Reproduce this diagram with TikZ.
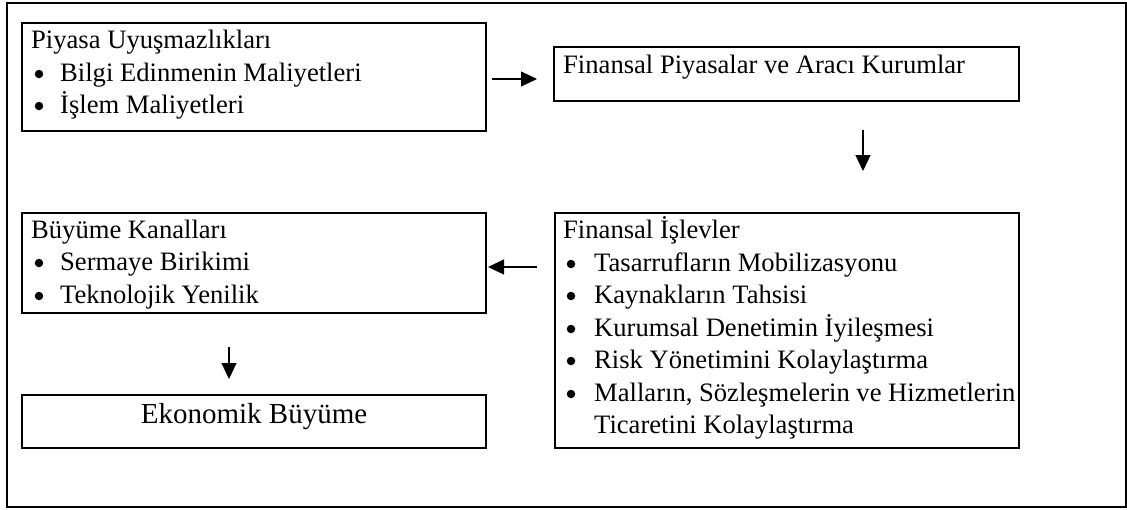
\documentclass[tikz,border=0pt]{standalone}
\usepackage{fontspec}
\setmainfont{Liberation Serif}
\usetikzlibrary{arrows.meta,calc}
\begin{document}
\begin{tikzpicture}[x=1pt,y=-1pt,
  box/.style={draw, line width=1.3pt, inner sep=0pt, outer sep=0pt, anchor=north west},
  txt/.style={anchor=base west, inner sep=0pt, font=\fontsize{26.6}{32.4}\selectfont},
  bul/.style={circle, fill, inner sep=0pt, minimum size=8.5pt},
  arr/.style={line width=1.2pt, -{Triangle[length=16pt,width=15pt]}}]
\useasboundingbox (0,0) rectangle (1127,509);
\node[draw, line width=2pt, inner sep=0pt, outer sep=0pt, minimum width=1119pt, minimum height=504pt, anchor=north west] (frame) at (7,3) {};
% boxes
\node[box, minimum width=464pt, minimum height=108pt] (b1) at (22,23) {};
\node[box, minimum width=465pt, minimum height=54pt] (b2) at (554,47) {};
\node[box, minimum width=464pt, minimum height=235pt] (b3) at (555,213) {};
\node[box, minimum width=464pt, minimum height=100pt] (b4) at (22,213) {};
\node[box, minimum width=464pt, minimum height=53pt] (b5) at (22,395) {};
% box 1 text
\node[txt] (t1) at (31,48) {Piyasa Uyuşmazlıkları};
\node[bul] (t1b1) at (39,74) {};
\node[txt] (t1i1) at (60,81) {Bilgi Edinmenin Maliyetleri};
\node[bul] (t1b2) at (39,106) {};
\node[txt] (t1i2) at (60,113) {İşlem Maliyetleri};
% box 2 text
\node[txt] (t2) at (563,73) {Finansal Piyasalar ve Aracı Kurumlar};
% box 3 text
\node[txt] (t3) at (563,238) {Finansal İşlevler};
\node[bul] (t3b1) at (571,264) {};
\node[txt] (t3i1) at (594,271) {Tasarrufların Mobilizasyonu};
\node[bul] (t3b2) at (571,296) {};
\node[txt] (t3i2) at (594,303) {Kaynakların Tahsisi};
\node[bul] (t3b3) at (571,329) {};
\node[txt] (t3i3) at (594,336) {Kurumsal Denetimin İyileşmesi};
\node[bul] (t3b4) at (571,361) {};
\node[txt] (t3i4) at (594,368) {Risk Yönetimini Kolaylaştırma};
\node[bul] (t3b5) at (571,394) {};
\node[txt] (t3i5) at (594,401) {Malların, Sözleşmelerin ve Hizmetlerin};
\node[txt] (t3i6) at (594,433) {Ticaretini Kolaylaştırma};
% box 4 text
\node[txt] (t4) at (31,238) {Büyüme Kanalları};
\node[bul] (t4b1) at (39,263) {};
\node[txt] (t4i1) at (60,270) {Sermaye Birikimi};
\node[bul] (t4b2) at (39,296) {};
\node[txt] (t4i2) at (60,303) {Teknolojik Yenilik};
% box 5 text
\node[anchor=base, inner sep=0pt, font=\fontsize{29}{34}\selectfont] (t5) at (254,423) {Ekonomik Büyüme};
% arrows
\draw[arr] ($(b1.east)+(6,2)$) -- ($(b2.west |- b1.east)+(-17,2)$);
\draw[arr] ($(b2.south)+(76.5,29)$) -- ($(b3.north)+(76,-42)$);
\draw[arr] ($(b3.west)+(-18,-63.5)$) -- ($(b4.east)+(2,4)$);
\draw[arr] ($(b4.south)+(-25,34)$) -- ($(b5.north)+(-25,-16)$);
\end{tikzpicture}
\end{document}
